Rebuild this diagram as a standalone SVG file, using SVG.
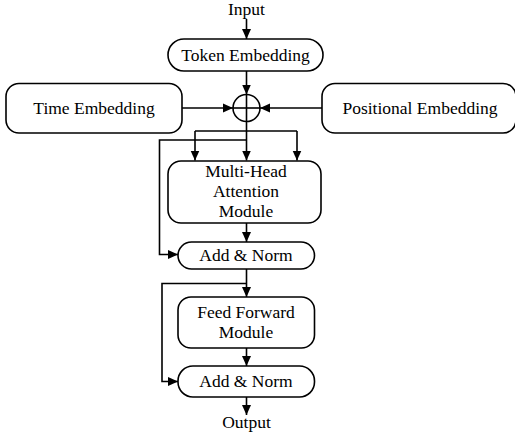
<svg xmlns="http://www.w3.org/2000/svg" width="515" height="438" viewBox="0 0 515 438">
<style>
.box{fill:#fff;stroke:#000;stroke-width:1.6}
.ln{fill:none;stroke:#000;stroke-width:1.6}
text{font-family:"Liberation Serif","Times New Roman",serif;font-size:17.5px;fill:#000;text-anchor:middle}
</style>
<defs>
<marker id="ah" viewBox="0 0 10 10" refX="10" refY="5" markerWidth="10" markerHeight="10" markerUnits="userSpaceOnUse" orient="auto">
<path d="M0,0.5 L10,5 L0,9.5 Z" fill="#000"/>
</marker>
</defs>
<rect width="515" height="438" fill="#fff"/>
<g id="connectors">
<line class="ln" x1="246.5" y1="19" x2="246.5" y2="39" marker-end="url(#ah)"/>
<line class="ln" x1="246.5" y1="71" x2="246.5" y2="94.5" marker-end="url(#ah)"/>
<line class="ln" x1="182" y1="108" x2="233" y2="108" marker-end="url(#ah)"/>
<line class="ln" x1="322" y1="108" x2="260" y2="108" marker-end="url(#ah)"/>
<line class="ln" x1="246.5" y1="94.5" x2="246.5" y2="160.5" marker-end="url(#ah)"/>
<line class="ln" x1="233" y1="108" x2="260" y2="108"/>
<line class="ln" x1="195" y1="131" x2="297" y2="131"/>
<line class="ln" x1="195" y1="131" x2="195" y2="160.5" marker-end="url(#ah)"/>
<line class="ln" x1="297" y1="131" x2="297" y2="160.5" marker-end="url(#ah)"/>
<polyline class="ln" points="246.5,140 159.5,140 159.5,254.5 178,254.5" marker-end="url(#ah)"/>
<line class="ln" x1="246.5" y1="223" x2="246.5" y2="242" marker-end="url(#ah)"/>
<line class="ln" x1="246.5" y1="269" x2="246.5" y2="297" marker-end="url(#ah)"/>
<polyline class="ln" points="246.5,283.5 162,283.5 162,381.5 178,381.5" marker-end="url(#ah)"/>
<line class="ln" x1="246.5" y1="348" x2="246.5" y2="366" marker-end="url(#ah)"/>
<line class="ln" x1="246.5" y1="397" x2="246.5" y2="415" marker-end="url(#ah)"/>
</g>
<g id="input"><text x="246.5" y="14.5">Input</text></g>
<g id="token"><rect class="box" x="168" y="39" width="155" height="32" rx="16"/><text x="245.5" y="61">Token Embedding</text></g>
<g id="sum"><circle cx="246.5" cy="108" r="13.5" fill="none" stroke="#000" stroke-width="1.6"/></g>
<g id="time"><rect class="box" x="6" y="83.5" width="176" height="49.5" rx="13"/><text x="94" y="114">Time Embedding</text></g>
<g id="pos"><rect class="box" x="322" y="83.5" width="194" height="49.5" rx="13"/><text x="420" y="114">Positional Embedding</text></g>
<g id="mha"><rect class="box" x="168" y="161" width="153" height="62" rx="13"/><text x="246" y="177">Multi-Head</text><text x="246" y="197">Attention</text><text x="246" y="217">Module</text></g>
<g id="addnorm1"><rect class="box" x="178" y="242" width="136.5" height="27" rx="13.5"/><text x="246" y="261">Add &amp; Norm</text></g>
<g id="ff"><rect class="box" x="178" y="297" width="136.5" height="51" rx="13"/><text x="246" y="318">Feed Forward</text><text x="246" y="338">Module</text></g>
<g id="addnorm2"><rect class="box" x="178" y="366" width="136.5" height="31" rx="15"/><text x="246" y="387">Add &amp; Norm</text></g>
<g id="output"><text x="246.5" y="428">Output</text></g>
</svg>
